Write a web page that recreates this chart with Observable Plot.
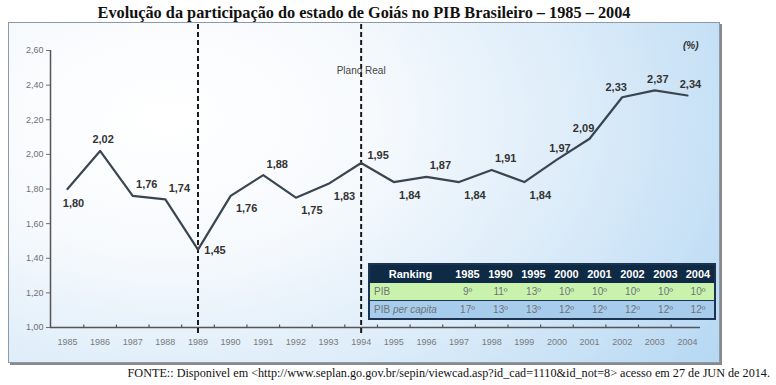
<!DOCTYPE html>
<html><head><meta charset="utf-8">
<script src="https://cdn.jsdelivr.net/npm/d3@7"></script>
<script src="https://cdn.jsdelivr.net/npm/@observablehq/plot@0.6"></script>
<style>
body{margin:0;background:#fff;width:776px;height:385px;position:relative;overflow:hidden}
#title{position:absolute;left:0;top:3px;width:728px;text-align:center;font-family:"Liberation Serif","Times New Roman",serif;font-weight:bold;font-size:16.3px;color:#111}
#frame{position:absolute;left:8px;top:22px;width:710px;height:339px;border:1px solid #8d9aa6;box-shadow:2px 2px 0 #8a8a8a;
 background:radial-gradient(ellipse 95% 130% at 22% 28%,#ffffff 0%,#f7fafd 30%,#dcecf9 62%,#b4d7f3 100%)}
#chart{position:absolute;left:0;top:22px}
#tbl{position:absolute;left:368px;top:263px;width:346px;border-collapse:collapse;font-family:"Liberation Sans",Arial,sans-serif;border:2px solid #1c3352;table-layout:fixed}
#tbl td{padding:0;text-align:center;height:17px;font-size:10px;color:#6d7378}
#tbl tr.h td{background:#0f2a44;color:#fff;font-weight:bold;font-size:11px;height:18px}
#tbl tr.g td{background:#c9f3ad;border-bottom:1px solid #1c3352}
#tbl tr.b td{background:#a8cdec}
#tbl td.l{text-align:left;padding-left:4px}
#tbl tr.h td.l{text-align:center;padding-left:0}
#caption{position:absolute;right:6px;top:366px;font-family:"Liberation Serif","Times New Roman",serif;font-size:12.2px;color:#111;white-space:nowrap}
</style></head>
<body>
<div id="title">Evolução da participação do estado de Goiás no PIB Brasileiro – 1985 – 2004</div>
<div id="frame"></div>
<div id="chart"></div>
<table id="tbl"></table>
<div id="caption">FONTE:: Disponivel em &lt;http://www.seplan.go.gov.br/sepin/viewcad.asp?id_cad=1110&amp;id_not=8&gt; acesso em 27 de JUN de 2014.</div>
<script>
const years = [1985,1986,1987,1988,1989,1990,1991,1992,1993,1994,1995,1996,1997,1998,1999,2000,2001,2002,2003,2004];
const values = [1.80,2.02,1.76,1.74,1.45,1.76,1.88,1.75,1.83,1.95,1.84,1.87,1.84,1.91,1.84,1.97,2.09,2.33,2.37,2.34];
const labelPlace = ["bn","an","a","a","r","b","a","b","b","ar","b","a","b","a","b","an","al","al","an","an"];
const yTicks = [1.00,1.20,1.40,1.60,1.80,2.00,2.20,2.40,2.60];
const markers = [1989,1994];
const markerLabel = "Plano Real";
const unitLabel = "(%)";
const rankingYears = ["1985","1990","1995","2000","2001","2002","2003","2004"];
const pibRank = ["9º","11º","13º","10º","10º","10º","10º","10º"];
const pibPerCapitaRank = ["17º","13º","13º","12º","12º","12º","12º","12º"];

const data = years.map((year,i)=>({year, value: values[i], place: labelPlace[i]}));
const fmt = v => v.toFixed(2).replace(".", ",");
const offsets = {b:[16,13], bn:[6,14], a:[14,-11], an:[3,-11], al:[-6,-10], r:[17,1], ar:[17,-8]};
const boundaries = years.slice(0,-1).map(y=>y+0.5);

const labelMarks = Object.entries(offsets).map(([k,[dx,dy]]) =>
  Plot.text(data.filter(d=>d.place===k), {x:"year", y:"value", text:d=>fmt(d.value), dx, dy,
    fontSize:11, fontWeight:"bold", fill:"#333"}));

const chart = Plot.plot({
  width:776, height:342,
  marginLeft:50, marginRight:76, marginTop:28, marginBottom:37,
  x:{domain:[1984.48,2004.4], label:null},
  y:{domain:[1.0,2.6], label:null},
  style:{background:"transparent", fontFamily:"'Liberation Sans', Arial, sans-serif"},
  marks:[
    Plot.axisY({ticks:yTicks, tickFormat:fmt, tickSize:4, tickPadding:3, fontSize:9, color:"#6f6f6f", label:null}),
    Plot.axisX({ticks:years, tickFormat:d=>String(d), tickSize:0, tickPadding:11, fontSize:9, color:"#7a7a7a", label:null}),
    Plot.ruleX([1984.48], {y1:1.0, y2:2.6, stroke:"#555", strokeWidth:1.5}),
    Plot.ruleY([1.0], {x1:1984.48, x2:2004.4, stroke:"#555", strokeWidth:1.5}),
    Plot.ruleX(boundaries, {x:d=>d, y1:1.0, y2:1.014, stroke:"#555", strokeWidth:1.2}),
    Plot.ruleX(markers, {x:d=>d, y1:0.965, y2:2.762, stroke:"#1a1a1a", strokeWidth:2, strokeDasharray:"5,3"}),
    Plot.text([markerLabel], {x:1994, y:2.485, text:d=>d, fontSize:10, fill:"#444"}),
    Plot.text([unitLabel], {x:2004.1, y:2.63, text:d=>d, fontSize:10, fontWeight:"bold", fontStyle:"italic", fill:"#333"}),
    Plot.line(data, {x:"year", y:"value", stroke:"#3a4550", strokeWidth:2.2}),
    ...labelMarks
  ]
});
document.getElementById("chart").appendChild(chart);

const tbl = document.getElementById("tbl");
const colg = '<colgroup><col style="width:82px">' + rankingYears.map(()=>'<col style="width:33px">').join("") + '</colgroup>';
tbl.innerHTML = colg +
  '<tr class="h"><td class="l">Ranking</td>' + rankingYears.map(y=>`<td>${y}</td>`).join("") + '</tr>' +
  '<tr class="g"><td class="l">PIB</td>' + pibRank.map(v=>`<td>${v}</td>`).join("") + '</tr>' +
  '<tr class="b"><td class="l">PIB <i>per capita</i></td>' + pibPerCapitaRank.map(v=>`<td>${v}</td>`).join("") + '</tr>';
</script>
</body></html>
